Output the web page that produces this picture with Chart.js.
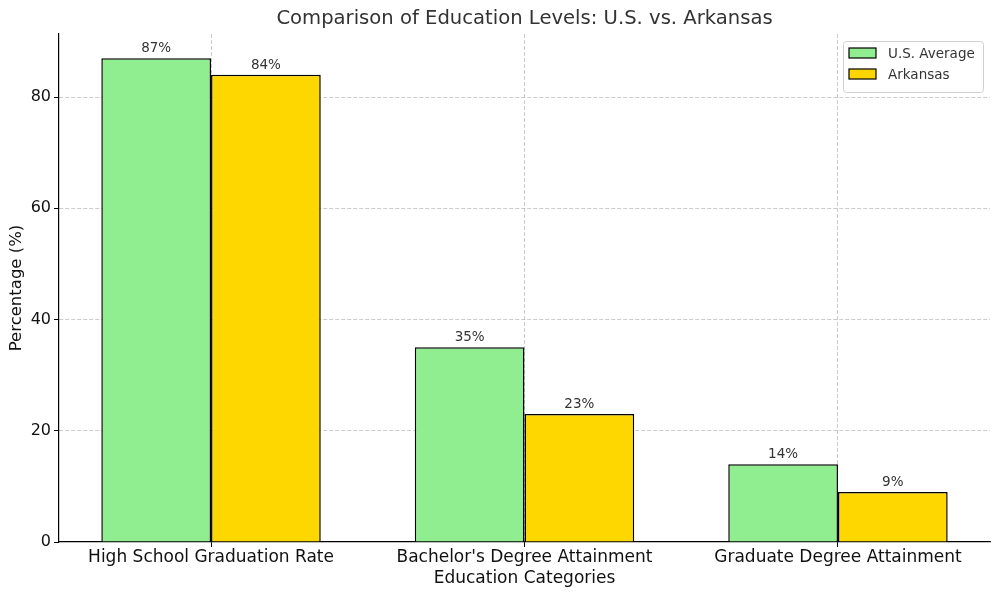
<!DOCTYPE html>
<html><head><meta charset="utf-8">
<script src="https://cdn.jsdelivr.net/npm/chart.js@4"></script>
<style>html,body{margin:0;padding:0;background:#fff}#wrap{width:1000px;height:596px}</style>
</head><body><div id="wrap"><canvas id="c" width="1000" height="596"></canvas></div>
<script>
const categories = ["High School Graduation Rate", "Bachelor's Degree Attainment", "Graduate Degree Attainment"];
const usAverage = [87, 35, 14];
const arkansas = [84, 23, 9];
const seriesNames = ["U.S. Average", "Arkansas"];
const yTicks = [0, 20, 40, 60, 80];
const FONT = "'DejaVu Sans', sans-serif";
const GRID = 'rgba(128,128,128,0.5)';

const labelPlugin = {
  id: 'labels',
  afterDraw(chart) {
    const ctx = chart.ctx;
    ctx.save();
    ctx.font = "13.5px " + FONT;
    ctx.fillStyle = '#333';
    ctx.textAlign = 'center';
    ctx.textBaseline = 'bottom';
    chart.data.datasets.forEach((ds, i) => {
      chart.getDatasetMeta(i).data.forEach((bar, j) => {
        ctx.fillText(ds.data[j].y + '%', bar.x, bar.y - 3);
      });
    });
    // title
    ctx.font = "19.6px " + FONT;
    ctx.fillStyle = '#333';
    ctx.textBaseline = 'middle';
    ctx.fillText("Comparison of Education Levels: U.S. vs. Arkansas", (chart.chartArea.left + chart.chartArea.right) / 2, 19);
    // legend
    const bx = 843, by = 41, bw = 140, bh = 51;
    ctx.fillStyle = 'rgba(255,255,255,0.85)';
    ctx.strokeStyle = '#d0d0d0';
    ctx.lineWidth = 1;
    ctx.beginPath();
    ctx.roundRect(bx + 0.5, by + 0.5, bw, bh, 3);
    ctx.fill(); ctx.stroke();
    ctx.font = "13.5px " + FONT;
    ctx.textAlign = 'left';
    chart.data.datasets.forEach((ds, i) => {
      const y = by + 12 + i * 21;
      ctx.fillStyle = ds.backgroundColor;
      ctx.fillRect(849, y - 5, 27, 10);
      ctx.strokeStyle = '#000';
      ctx.lineWidth = 1.2;
      ctx.strokeRect(849, y - 5, 27, 10);
      ctx.fillStyle = '#333';
      ctx.fillText(ds.label, 888, y + 1);
    });
    ctx.restore();
  }
};

new Chart(document.getElementById('c'), {
  type: 'bar',
  data: {
    datasets: [
      { label: seriesNames[0], data: usAverage.map((v, i) => ({x: i, y: v})), backgroundColor: '#90EE90', borderColor: '#000', borderWidth: 1.5 },
      { label: seriesNames[1], data: arkansas.map((v, i) => ({x: i, y: v})), backgroundColor: '#FFD700', borderColor: '#000', borderWidth: 1.5 }
    ]
  },
  options: {
    responsive: false,
    animation: false,
    layout: { padding: { top: 34, right: 10, left: 0, bottom: 0 } },
    plugins: { legend: { display: false }, title: { display: false }, tooltip: { enabled: false } },
    datasets: { bar: { categoryPercentage: 0.7, barPercentage: 1.0, grouped: true } },
    scales: {
      x: {
        type: 'linear', min: -0.485, max: 2.485, offset: false, z: 1,
        afterBuildTicks: s => { s.ticks = categories.map((c, i) => ({ value: i })); },
        afterFit: s => { s.height = 54; },
        ticks: { callback: (v) => categories[v], font: { family: FONT, size: 17 }, color: '#111', padding: 0, maxRotation: 0, autoSkip: false },
        grid: { offset: false, color: GRID, tickLength: 5, tickColor: '#000', tickBorderDash: [], tickWidth: 1, lineWidth: 0.8 },
        border: { display: true, color: '#000', width: 1.2, dash: [4, 2] },
        title: { display: true, text: 'Education Categories', font: { family: FONT, size: 17 }, color: '#111', padding: { top: 0, bottom: 7 } }
      },
      y: {
        min: 0, max: 91.35, z: 1,
        afterBuildTicks: s => { s.ticks = yTicks.map(v => ({ value: v })); },
        afterFit: s => { s.width = 59; },
        ticks: { font: { family: FONT, size: 16 }, color: '#111', padding: 3 },
        grid: { color: (c) => c.tick && c.tick.value === 0 ? 'rgba(0,0,0,0)' : GRID, tickLength: 5, tickColor: '#000', tickBorderDash: [], tickWidth: 1, lineWidth: 0.8 },
        border: { display: true, color: '#000', width: 1.2, dash: [4, 2] },
        title: { display: true, text: 'Percentage (%)', font: { family: FONT, size: 16.5 }, color: '#111', padding: { top: 7, bottom: 0 } }
      }
    }
  },
  plugins: [labelPlugin]
});
</script>
</body></html>
